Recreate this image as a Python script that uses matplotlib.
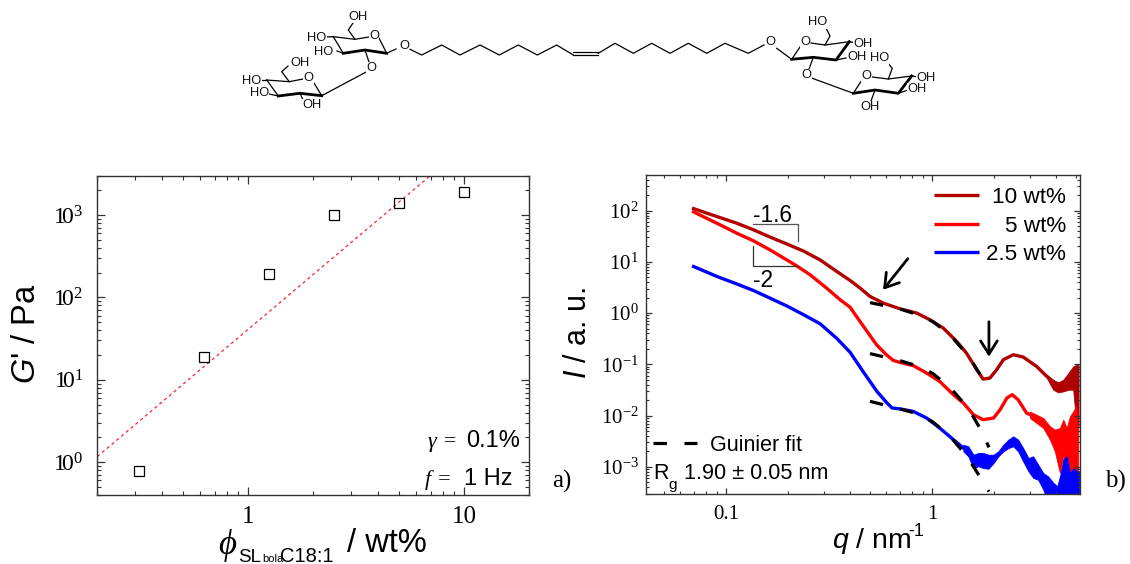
#!/usr/bin/env python3
"""Rheology and SAXS panels for the C18:1 bola sophorolipid, with its structure on top."""

import matplotlib

matplotlib.use("Agg")
import matplotlib.pyplot as plt
from matplotlib.ticker import FixedLocator, NullFormatter

plt.rcParams["font.family"] = ["Liberation Sans", "DejaVu Sans"]
plt.rcParams["mathtext.fontset"] = "custom"
plt.rcParams["mathtext.it"] = "Liberation Sans:italic"
plt.rcParams["mathtext.rm"] = "Liberation Sans"
plt.rcParams["mathtext.default"] = "regular"

SERIF = ["Liberation Serif", "DejaVu Serif"]
WIDTH, HEIGHT = 1130, 564
FRAME = "#333333"

# panel a
phi = [0.3125, 0.625, 1.25, 2.5, 5, 10]
g_prime = [0.78, 18.9, 190, 1000, 1400, 1900]
fit_phi = [0.2, 6.96]
fit_g = [1.17, 3000]

# panel b, smooth part of each curve
q_10 = [0.0695, 0.0902, 0.1127, 0.136, 0.1637, 0.197, 0.2377, 0.286, 0.345, 0.40, 0.448, 0.5,
        0.581, 0.70, 0.843, 0.977, 1.135, 1.318, 1.47, 1.65, 1.77, 1.91, 2.06, 2.22, 2.48,
        2.77, 3.22, 3.61]
i_10 = [109, 76.4, 56.6, 42, 30.3, 22.3, 16.2, 10.9, 6.47, 4.33, 3.06, 2.11,
        1.56, 1.21, 1.0, 0.74, 0.509, 0.28, 0.166, 0.0785, 0.0516, 0.054, 0.0785, 0.123, 0.154,
        0.139, 0.0912, 0.0582]
q_5 = [0.0695, 0.0902, 0.1127, 0.136, 0.1637, 0.197, 0.22, 0.256, 0.308, 0.358, 0.40, 0.465,
       0.538, 0.60, 0.649, 0.70, 0.813, 0.942, 1.09, 1.27, 1.42, 1.59, 1.77, 1.99, 2.14, 2.31,
       2.45, 2.62, 2.88, 2.99]
i_5 = [94, 56.6, 36.1, 25.6, 17.0, 10.9, 8.36, 5.57, 3.06, 1.82, 1.3, 0.548,
       0.241, 0.154, 0.119, 0.109, 0.094, 0.0676, 0.0465, 0.0256, 0.0176, 0.0104, 0.00833, 0.00897,
       0.013, 0.022, 0.0256, 0.0204, 0.0112, 0.0105]
q_25 = [0.0695, 0.0902, 0.1127, 0.136, 0.1637, 0.197, 0.2377, 0.286, 0.345, 0.40, 0.462, 0.54,
        0.605, 0.64, 0.70, 0.81, 0.942, 1.09, 1.27, 1.42]
i_25 = [8.1, 5.18, 3.7, 2.75, 1.95, 1.38, 0.93, 0.62, 0.32, 0.172, 0.073, 0.0297,
        0.0176, 0.0141, 0.0135, 0.0121, 0.00897, 0.00573, 0.0034, 0.00234]

# panel b, noisy high-q part as lower and upper edge of the band
band_q_10 = [3.61, 3.88, 4.10, 4.34, 4.59, 4.85, 5.04, 5.15]
band_lo_10 = [0.0541, 0.032, 0.0284, 0.0297, 0.032, 0.032, 0.00573, 0.00618]
band_hi_10 = [0.0628, 0.0501, 0.0445, 0.0501, 0.0676, 0.0912, 0.0984, 0.0984]
band_q_5 = [2.99, 3.22, 3.47, 3.74, 3.95, 4.18, 4.34, 4.51, 4.68, 4.85, 5.0, 5.13]
band_lo_5 = [0.00897, 0.00718, 0.00573, 0.0034, 0.00201, 0.00076, 0.00161, 0.00103, 0.00056,
             0.0002, 0.0002, 0.0002]
band_hi_5 = [0.012, 0.0104, 0.00897, 0.00618, 0.00532, 0.00573, 0.00833, 0.00573, 0.0097,
             0.0121, 0.0151, 0.00618]
band_q_25 = [1.42, 1.50, 1.59, 1.68, 1.77, 1.88, 1.99, 2.10, 2.22, 2.35, 2.48, 2.62, 2.77,
             2.94, 3.10, 3.28, 3.47, 3.67, 3.88, 4.06, 4.22, 4.34, 4.51, 4.68, 4.89, 5.04, 5.19]
band_lo_25 = [0.00201, 0.00161, 0.00095, 0.00103, 0.00095, 0.00092, 0.00119, 0.00161, 0.00201,
              0.00233, 0.00252, 0.00201, 0.00128, 0.00082, 0.00061, 0.00056, 0.00036, 0.0002,
              0.0002, 0.0002, 0.0002, 0.0002, 0.0002, 0.0002, 0.0002, 0.0002, 0.0002]
band_hi_25 = [0.00271, 0.00252, 0.00173, 0.00187, 0.00187, 0.00173, 0.00173, 0.00201, 0.00271,
              0.0034, 0.00394, 0.0034, 0.00233, 0.00149, 0.00161, 0.0011, 0.00076, 0.00065,
              0.00049, 0.00042, 0.00076, 0.00138, 0.00161, 0.00076, 0.00095, 0.00082, 0.00082]

# Guinier fits
q_fit = [0.5, 0.7, 0.875, 1.01, 1.22, 1.41, 1.58, 1.75, 1.89]
fit_10 = [1.6, 1.2, 0.9, 0.68, 0.38, 0.195, 0.106, 0.055, 0.033]
fit_5 = [0.162, 0.118, 0.09, 0.066, 0.036, 0.0185, 0.0098, 0.0048, 0.0024]
fit_25 = [0.019, 0.0135, 0.0105, 0.0075, 0.004, 0.002, 0.00105, 0.00055, 0.00033]

# slope triangles
slope_16_q = [0.135, 0.2237, 0.2237]
slope_16_i = [54.3, 54.3, 25.7]
slope_2_q = [0.135, 0.135, 0.22]
slope_2_i = [20.5, 8.1, 8.1]

# structure, in picture pixels
thin_bonds = [
    [(333.3, 36.7), (355, 39.3), (369, 37)],
    [(379, 38), (386.7, 53.3), (396, 49)],
    [(333.3, 36.7), (343.3, 53.3)],
    [(355, 39.3), (348.3, 30), (353, 23)],
    [(326, 37), (333.3, 36.7)],
    [(337, 51), (343.3, 53.3)],
    [(365, 50), (369, 62)],
    [(366.7, 71.7), (321.7, 95.7), (314, 83)],
    [(410, 49.3), (421.7, 55), (441.7, 45), (460, 55), (480, 45), (499.3, 55), (518.3, 45),
     (537.3, 55), (556.7, 45), (573.3, 55)],
    [(573.3, 55), (598.3, 55)],
    [(573.3, 52), (598.3, 52)],
    [(598.3, 53.3), (615, 43.3), (633.3, 53.3), (651.7, 43.3), (670, 53.3), (688.3, 43.3),
     (706.7, 53.3), (725, 43.3), (748.3, 53.3), (764, 45)],
    [(266.7, 80), (289.3, 81.7), (303, 79)],
    [(266.7, 80), (278.3, 96)],
    [(289.3, 81.7), (281.7, 71.7), (288, 66)],
    [(259, 80), (266.7, 80)],
    [(269, 94), (278.3, 96)],
    [(300, 93.3), (303, 100)],
    [(776.7, 48.3), (791.7, 59.3), (800, 47)],
    [(811, 43), (825, 45), (849.3, 41.7), (856, 43)],
    [(825, 45), (830, 36), (826, 28)],
    [(836, 60), (846, 58)],
    [(813.3, 57.3), (809, 69)],
    [(812.3, 78.3), (853.3, 93.3), (862, 80)],
    [(872, 77), (888.3, 79), (911.7, 76), (918, 77)],
    [(888.3, 79), (892.3, 68.3), (887, 62)],
    [(898.3, 93.3), (908, 90)],
    [(875, 90), (871, 101)],
]
bold_bonds = [
    [(343.3, 53.3), (365, 50), (386.7, 53.3)],
    [(278.3, 96), (300, 93.3), (321.7, 95.7)],
    [(791.7, 59.3), (813.3, 57.3), (836, 60), (849.3, 41.7)],
    [(853.3, 93.3), (875, 90), (898.3, 93.3), (911.7, 76)],
]
atom_labels = ["OH", "HO", "HO", "O", "O", "O", "OH", "HO", "HO", "O", "OH",
               "O", "O", "HO", "OH", "OH", "O", "O", "HO", "OH", "OH", "OH"]
atom_x = [358, 317, 324, 374, 371.7, 404, 300, 251.7, 259.3, 308.3, 311.7,
          770, 805, 817.7, 863.3, 856.7, 806.7, 866.7, 879.3, 926, 916.7, 870]
atom_y = [17, 38, 52, 36, 68.3, 45.7, 63.3, 81, 93.3, 78.3, 105,
          41.7, 41.7, 22.3, 44, 57.3, 75, 76, 58.3, 78.3, 89.3, 107.3]


def axes_at(fig, left, top, right, bottom):
    return fig.add_axes([left / WIDTH, 1 - bottom / HEIGHT, (right - left) / WIDTH, (bottom - top) / HEIGHT])


def style_log_axes(ax, x_major, x_labels, y_major, y_labels, x_size, y_size, x_pad, y_pad, major_len, minor_len):
    ax.set_xscale("log")
    ax.set_yscale("log")
    ax.xaxis.set_major_locator(FixedLocator(x_major))
    ax.yaxis.set_major_locator(FixedLocator(y_major))
    ax.xaxis.set_minor_locator(matplotlib.ticker.LogLocator(base=10, subs=range(2, 10), numticks=20))
    ax.yaxis.set_minor_locator(matplotlib.ticker.LogLocator(base=10, subs=range(2, 10), numticks=20))
    ax.xaxis.set_minor_formatter(NullFormatter())
    ax.yaxis.set_minor_formatter(NullFormatter())
    ax.set_xticklabels(x_labels, family=SERIF, fontsize=x_size)
    ax.set_yticklabels(y_labels, family=SERIF, fontsize=y_size)
    ax.tick_params(which="major", direction="in", top=True, right=True, length=major_len, width=0.9, color=FRAME)
    ax.tick_params(which="minor", direction="in", top=True, right=True, length=minor_len, width=0.8, color=FRAME)
    ax.tick_params(axis="x", which="major", pad=x_pad)
    ax.tick_params(axis="y", which="major", pad=y_pad)
    for spine in ax.spines.values():
        spine.set_linewidth(1.0)
        spine.set_color(FRAME)


def draw_panel_a(ax):
    ax.plot(fit_phi, fit_g, color="#ff2030", linewidth=0.9, dashes=(2.5, 2.5))
    ax.plot(phi, g_prime, linestyle="none", marker="s", markersize=7.8, markerfacecolor="none",
            markeredgecolor="black", markeredgewidth=0.9)
    ax.set_xlim(0.2, 20)
    ax.set_ylim(0.4, 3000)
    style_log_axes(ax, [1, 10], ["1", "10"], [1, 10, 100, 1000],
                   [r"$1\!0^{0}$", r"$1\!0^{1}$", r"$1\!0^{2}$", r"$1\!0^{3}$"], 18, 17, 8, 10, 5.5, 2.8)
    ax.set_ylabel(r"$\mathit{G}$' / Pa", fontsize=23.5)
    ax.yaxis.set_label_coords(-0.127, 0.505)


def draw_panel_b(ax):
    for q, i, bq, lo, hi, color in [
        (q_10, i_10, band_q_10, band_lo_10, band_hi_10, "#b00000"),
        (q_5, i_5, band_q_5, band_lo_5, band_hi_5, "#ff0000"),
        (q_25, i_25, band_q_25, band_lo_25, band_hi_25, "#0000ff"),
    ]:
        ax.plot(q, i, color=color, linewidth=2.4)
        ax.fill_between(bq, lo, hi, color=color, linewidth=0.6)
    for fit in (fit_10, fit_5, fit_25):
        ax.plot(q_fit, fit, color="black", linewidth=2.3, dashes=(4.2, 5.5), dash_capstyle="butt")
    ax.plot(slope_16_q, slope_16_i, color="#555555", linewidth=0.9)
    ax.plot(slope_2_q, slope_2_i, color="#333333", linewidth=0.9)
    arrow = dict(arrowstyle="->,head_length=0.95,head_width=0.6", color="black", lw=2.0, shrinkA=0, shrinkB=0)
    ax.annotate("", xy=(0.578, 2.84), xytext=(0.763, 11.5), arrowprops=arrow)
    ax.annotate("", xy=(1.89, 0.141), xytext=(1.89, 0.676), arrowprops=arrow)
    ax.set_xlim(0.0407, 5.25)
    ax.set_ylim(3e-4, 500)
    style_log_axes(ax, [0.1, 1], ["0.1", "1"], [1e-3, 1e-2, 1e-1, 1, 10, 100],
                   ["$10^{-3}$", "$10^{-2}$", "$10^{-1}$", "$10^{0}$", "$10^{1}$", "$10^{2}$"],
                   15, 15, 8, 5, 4.5, 2.3)
    ax.set_ylabel(r"$\mathit{I}$ / a. u.", fontsize=22)
    ax.yaxis.set_label_coords(-0.121, 0.505)


def draw_overlay(px):
    px.set_xlim(0, WIDTH)
    px.set_ylim(HEIGHT, 0)
    px.axis("off")
    px.patch.set_alpha(0)

    # structure
    for bond in thin_bonds:
        px.plot([p[0] for p in bond], [p[1] for p in bond], color="black", linewidth=0.9)
    for bond in bold_bonds:
        px.plot([p[0] for p in bond], [p[1] for p in bond], color="black", linewidth=2.0)
    for label, x, y in zip(atom_labels, atom_x, atom_y):
        px.text(x, y, label, fontsize=9.3, ha="center", va="center", color="#111111",
                bbox=dict(facecolor="white", edgecolor="none", pad=0.3))

    # panel a texts
    px.text(218, 554, "\u03d5", family=SERIF, style="italic", fontsize=25, ha="left", va="baseline")
    px.text(238, 562, "SL", fontsize=13.5, ha="left", va="baseline")
    px.text(262, 562, "bola", fontsize=8, ha="left", va="baseline")
    px.text(280, 562, "C18:1", fontsize=14.5, ha="left", va="baseline")
    px.text(347, 552, "/ wt%", fontsize=23.5, ha="left", va="baseline")
    px.text(428, 447, "\u03b3 =", family=SERIF, style="italic", fontsize=16, ha="left", va="baseline")
    px.text(520, 447, "0.1%", fontsize=17, ha="right", va="baseline")
    px.text(425, 485, "f =", family=SERIF, style="italic", fontsize=16, ha="left", va="baseline")
    px.text(513, 485, "1 Hz", fontsize=17, ha="right", va="baseline")
    px.text(552, 488, "a)", family=SERIF, fontsize=18, ha="left", va="baseline")

    # panel b texts
    px.text(832, 548, r"$\mathit{q}$ / nm", fontsize=20.5, ha="left", va="baseline")
    px.text(908, 536, "-1", fontsize=13, ha="left", va="baseline")
    px.text(753, 222, "-1.6", fontsize=16.4, ha="left", va="baseline")
    px.text(753, 287, "-2", fontsize=16.4, ha="left", va="baseline")
    px.text(1105, 488, "b)", family=SERIF, fontsize=18, ha="left", va="baseline")

    legend_labels = ["10 wt%", "5 wt%", "2.5 wt%"]
    legend_colors = ["#b00000", "#ff0000", "#0000ff"]
    for label, color, y in zip(legend_labels, legend_colors, [195, 223.5, 252]):
        px.plot([934, 979], [y, y], color=color, linewidth=2.4, solid_capstyle="butt")
        px.text(1066, y + 8, label, fontsize=16.2, ha="right", va="baseline")

    px.plot([653, 697], [442.7, 442.7], color="black", linewidth=2.3, dashes=(4.2, 5.5), dash_capstyle="butt")
    px.text(710, 451, "Guinier fit", fontsize=15.5, ha="left", va="baseline")
    px.text(653, 479, "R", fontsize=15.5, ha="left", va="baseline")
    px.text(668, 489, "g", fontsize=11, ha="left", va="baseline")
    px.text(684, 479, "1.90 \u00b1 0.05 nm", fontsize=15.7, ha="left", va="baseline")


def main():
    fig = plt.figure(figsize=(WIDTH / 100, HEIGHT / 100), dpi=100)
    draw_panel_a(axes_at(fig, 97.3, 175.7, 529.3, 495))
    draw_panel_b(axes_at(fig, 645.7, 174.7, 1080.3, 493.7))
    draw_overlay(fig.add_axes([0, 0, 1, 1]))
    fig.savefig("out.png", dpi=100)
    plt.close(fig)


if __name__ == "__main__":
    main()
